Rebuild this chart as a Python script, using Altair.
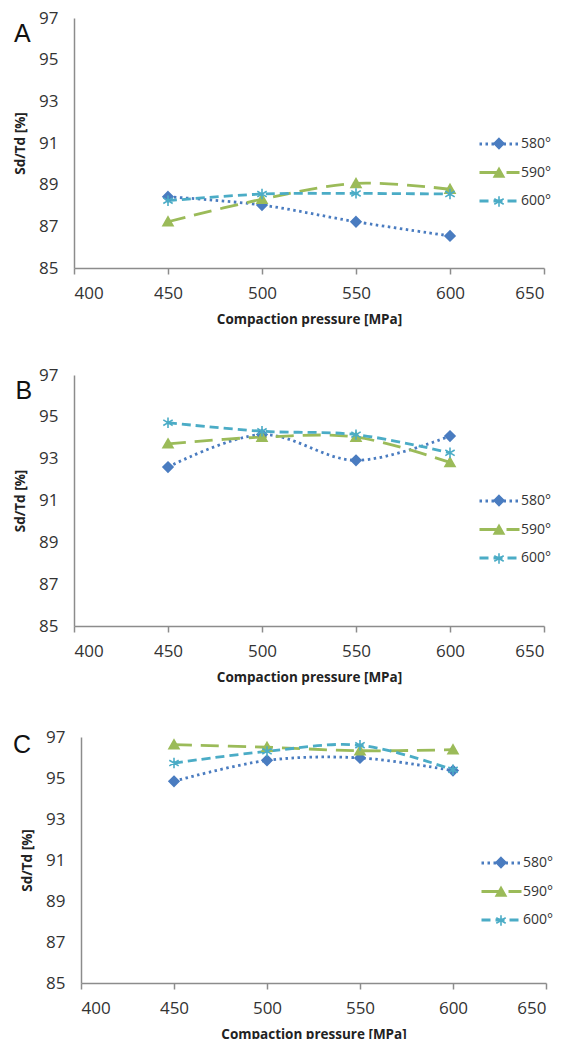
import altair as alt
import pandas as pd

# ---- data ----
pressure = [450, 500, 550, 600]
series_names = ["580°", "590°", "600°"]

a_580 = [88.42, 88.02, 87.22, 86.54]
a_590 = [87.22, 88.30, 89.06, 88.78]
a_600 = [88.23, 88.55, 88.58, 88.55]

b_580 = [92.60, 94.15, 92.92, 94.08]
b_590 = [93.71, 94.03, 94.03, 92.82]
b_600 = [94.72, 94.31, 94.15, 93.28]

c_580 = [94.84, 95.86, 95.98, 95.36]
c_590 = [96.63, 96.50, 96.33, 96.38]
c_600 = [95.73, 96.30, 96.60, 95.40]

panel_letters = ["A", "B", "C"]
x_ticks = [400, 450, 500, 550, 600, 650]
y_ticks = [85, 87, 89, 91, 93, 95, 97]

colors = ["#4A7CC0", "#9BBB59", "#4BACC6"]
dashes = [[2.5, 3.5], [18, 9], [9, 5]]
shapes = [
    "M0,-0.5L0.5,0L0,0.5L-0.5,0Z",
    "M0,-0.48L0.5,0.4L-0.5,0.4Z",
    "M0,-0.52L0,0.52M-0.47,-0.28L0.47,0.28M-0.47,0.28L0.47,-0.28",
]

FONT = "Open Sans"
X_DOM = [400, 650]
Y_DOM = [85, 97]


def panel(letter, vals, width, height, letter_left_px, letter_base_px):
    rows = []
    for s, v in zip(series_names, vals):
        for p, y in zip(pressure, v):
            rows.append({"p": p, "y": y, "s": s, "m": s})
    df = pd.DataFrame(rows)
    base = alt.Chart(df)

    x = alt.X(
        "p:Q",
        scale=alt.Scale(domain=X_DOM, nice=False, zero=False),
        axis=alt.Axis(
            values=x_ticks, title="Compaction pressure [MPa]", grid=False,
            tickSize=6, labelPadding=11, titlePadding=11,
        ),
    )
    y = alt.Y(
        "y:Q",
        scale=alt.Scale(domain=Y_DOM, nice=False, zero=False),
        axis=alt.Axis(
            values=y_ticks, title="Sd/Td [%]", grid=False, ticks=False,
            labelPadding=16, titlePadding=11,
        ),
    )
    leg_common = dict(
        title=None, orient="none", legendX=width - 56, legendY=114.5,
        symbolSize=400, labelFontSize=14, labelFont=FONT, labelColor="#333333",
        labelOffset=10, rowPadding=9.5,
    )
    lines = base.mark_line(interpolate="catmull-rom", strokeWidth=2.8).encode(
        x=x, y=y,
        color=alt.Color("s:N", scale=alt.Scale(domain=series_names, range=colors),
                        legend=alt.Legend(symbolType="M-2,0L2,0", symbolStrokeWidth=2.8, **leg_common)),
        strokeDash=alt.StrokeDash("s:N", scale=alt.Scale(domain=series_names, range=dashes),
                                  legend=alt.Legend(symbolType="M-2,0L2,0", symbolStrokeWidth=2.8, **leg_common)),
    )
    points = base.mark_point(filled=True, size=400, strokeWidth=1.6, opacity=1).encode(
        x=x, y=y,
        fill=alt.Fill("m:N", scale=alt.Scale(domain=series_names, range=colors),
                      legend=alt.Legend(labelOpacity=0, symbolStrokeWidth=1.6, **leg_common)),
        stroke=alt.Stroke("m:N", scale=alt.Scale(domain=series_names, range=colors),
                          legend=alt.Legend(labelOpacity=0, symbolStrokeWidth=1.6, **leg_common)),
        shape=alt.Shape("m:N", scale=alt.Scale(domain=series_names, range=shapes),
                        legend=alt.Legend(labelOpacity=0, symbolStrokeWidth=1.6, **leg_common)),
    )
    # panel letter placed through the panel's own scales (left of the y axis, near its top)
    lx = X_DOM[0] - letter_left_px * (X_DOM[1] - X_DOM[0]) / width
    ly = Y_DOM[1] - letter_base_px * (Y_DOM[1] - Y_DOM[0]) / height
    tag = alt.Chart(pd.DataFrame({"t": [letter], "lx": [lx], "ly": [ly]})).mark_text(
        font="Liberation Sans", fontSize=25, color="#111111",
        align="left", baseline="alphabetic",
    ).encode(
        x=alt.X("lx:Q", scale=alt.Scale(domain=X_DOM, nice=False, zero=False)),
        y=alt.Y("ly:Q", scale=alt.Scale(domain=Y_DOM, nice=False, zero=False)),
        text="t:N",
    )
    return alt.layer(lines, points, tag).resolve_legend(
        color="independent", strokeDash="independent", fill="independent",
        stroke="independent", shape="independent"
    ).resolve_scale(color="independent").properties(width=width, height=height)


def spacer(w):
    # empty narrow cell used only to set the left indent of a panel row
    return alt.Chart(pd.DataFrame({"t": [""]})).mark_text().encode(text="t:N").properties(width=w, height=1)


pA = panel(panel_letters[0], [a_580, a_590, a_600], 470, 250, 60, 24)
pB = panel(panel_letters[1], [b_580, b_590, b_600], 470, 251, 58.5, 24)
pC = panel(panel_letters[2], [c_580, c_590, c_600], 465, 246, 68, 16)

chart = alt.vconcat(
    alt.vconcat(
        alt.hconcat(spacer(4.5), pA, spacing=0),
        alt.hconcat(spacer(4.5), pB, spacing=0),
        spacing=40,
    ),
    alt.hconcat(spacer(4.6), pC, spacing=0),
    spacing=44,
).properties(
    padding={"left": 0, "top": 1, "right": 0, "bottom": 0},
).configure_view(stroke=None).configure_axis(
    labelFont=FONT, labelFontSize=17, labelColor="#333333",
    titleFont=FONT, titleFontSize=13.5, titleFontWeight="bold", titleColor="#222222",
    domainColor="#8c8c8c", domainWidth=1.5, tickColor="#8c8c8c", tickWidth=1.5,
)

chart.save("out.html", embed_options={"renderer": "svg", "actions": False})
